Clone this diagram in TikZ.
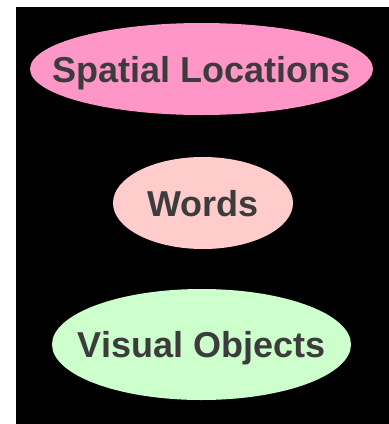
\documentclass[tikz,border=0pt]{standalone}
\usepackage{fontspec}
\setmainfont{Liberation Sans}
\usetikzlibrary{shapes.geometric}
\definecolor{spatialpink}{HTML}{FF96C8}
\definecolor{wordspink}{HTML}{FFCCCC}
\definecolor{visualgreen}{HTML}{CCFFCC}
\definecolor{textgray}{HTML}{3C3C3C}
\tikzset{
  blob/.style={ellipse, inner sep=0pt},
  blobtext/.style={text=textgray, font=\fontsize{36}{43}\selectfont\bfseries, inner sep=0pt, text height=26pt, text depth=0pt}
}
\begin{document}
\begin{tikzpicture}[x=1pt, y=-1pt]
  % Background
  \useasboundingbox (0,0) rectangle (389,424);
  \fill[black] (16,7) rectangle (389,424);
  % Nodes
  \node (spatial) [blob, fill=spatialpink, minimum width=343pt, minimum height=92pt, label={[blobtext]center:Spatial Locations}] at (201.5, 69) {};
  \node (words) [blob, fill=wordspink, minimum width=180pt, minimum height=92pt, label={[blobtext]center:Words}] at (203, 203) {};
  \node (visual) [blob, fill=visualgreen, minimum width=299pt, minimum height=111pt, label={[blobtext]center:Visual Objects}] at (201.5, 344.5) {};
\end{tikzpicture}
\end{document}
